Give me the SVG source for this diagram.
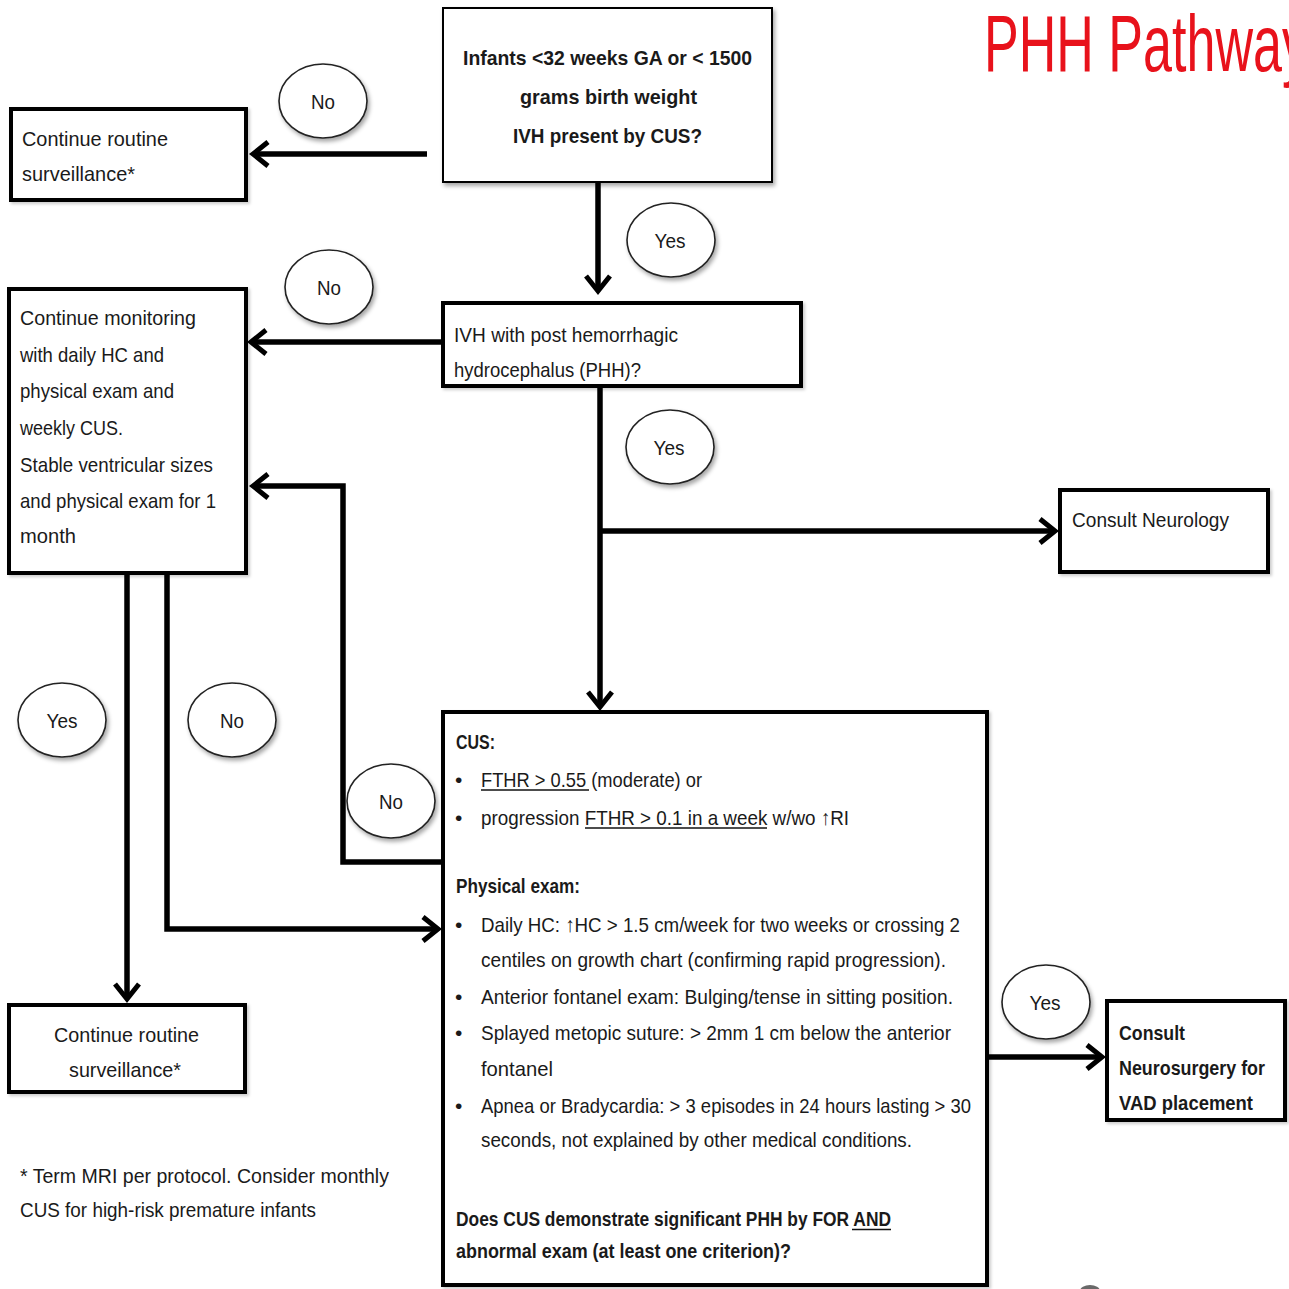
<svg xmlns="http://www.w3.org/2000/svg" width="1289" height="1289" viewBox="0 0 1289 1289">
  <defs>
    <style>
      .box { fill: #fff; stroke: #000; stroke-width: 4; }
      .thin { stroke-width: 2; }
      .oval { fill: #fff; stroke: #222; stroke-width: 1.6; }
      .conn { fill: none; stroke: #000; stroke-width: 5.5; }
      .ul { stroke: #111; stroke-width: 1.6; }
      .t { font-family: "Liberation Sans", Arial, sans-serif; font-size: 21px; fill: #1a1a1a; }
      .b { font-weight: bold; }
      .lbl { font-family: "Liberation Sans", Arial, sans-serif; font-size: 21px; fill: #1a1a1a; text-anchor: middle; }
      .title { font-family: "Liberation Sans", Arial, sans-serif; font-size: 80px; fill: #e8121b; }
    </style>
    <filter id="shadow" x="-20%" y="-20%" width="150%" height="150%">
      <feDropShadow dx="2" dy="3" stdDeviation="2" flood-color="#000" flood-opacity="0.35"/>
    </filter>
    <filter id="softshadow" x="-10%" y="-10%" width="130%" height="130%">
      <feDropShadow dx="2" dy="2" stdDeviation="1.5" flood-color="#000" flood-opacity="0.2"/>
    </filter>
    <marker id="chev" markerUnits="userSpaceOnUse" markerWidth="30" markerHeight="34" viewBox="-22 -17 30 34" refX="0" refY="0" orient="auto">
      <path d="M-15,-12 L0,0 L-15,12" fill="none" stroke="#000" stroke-width="5"/>
    </marker>
  </defs>

  <rect width="1289" height="1289" fill="#fff"/>

  <!-- title, running off the right edge -->
  <text class="title" x="984" y="71" textLength="324" lengthAdjust="spacingAndGlyphs">PHH Pathway</text>

  <!-- connectors -->
  <g id="connectors">
    <path class="conn" d="M427,154 H253" marker-end="url(#chev)"/>
    <path class="conn" d="M598,183 V291" marker-end="url(#chev)"/>
    <path class="conn" d="M441,342 H251" marker-end="url(#chev)"/>
    <path class="conn" d="M600,388 V707" marker-end="url(#chev)"/>
    <path class="conn" d="M600,531 H1055" marker-end="url(#chev)"/>
    <path class="conn" d="M441,862 H343 V486 H253" marker-end="url(#chev)"/>
    <path class="conn" d="M167,575 V929 H438" marker-end="url(#chev)"/>
    <path class="conn" d="M127,575 V999" marker-end="url(#chev)"/>
    <path class="conn" d="M989,1057 H1102" marker-end="url(#chev)"/>
  </g>

  <!-- start question -->
  <g id="n-start">
    <rect class="box thin" x="443" y="8" width="329" height="174" filter="url(#shadow)"/>
    <text class="t b" x="463" y="65" textLength="289" lengthAdjust="spacingAndGlyphs">Infants &lt;32 weeks GA or &lt; 1500</text>
    <text class="t b" x="520" y="104" textLength="177" lengthAdjust="spacingAndGlyphs">grams birth weight</text>
    <text class="t b" x="513" y="143" textLength="189" lengthAdjust="spacingAndGlyphs">IVH  present by CUS?</text>
  </g>

  <g id="n-routine-top">
    <rect class="box" x="11" y="109" width="235" height="91" filter="url(#softshadow)"/>
    <text class="t" x="22" y="146" textLength="146" lengthAdjust="spacingAndGlyphs">Continue routine</text>
    <text class="t" x="22" y="181" textLength="113" lengthAdjust="spacingAndGlyphs">surveillance*</text>
  </g>

  <g id="n-phh">
    <rect class="box" x="443" y="303" width="358" height="83" filter="url(#softshadow)"/>
    <text class="t" x="454" y="342" textLength="224" lengthAdjust="spacingAndGlyphs">IVH with post hemorrhagic</text>
    <text class="t" x="454" y="377" textLength="187" lengthAdjust="spacingAndGlyphs">hydrocephalus (PHH)?</text>
  </g>

  <g id="n-monitor">
    <rect class="box" x="9" y="289" width="237" height="284" filter="url(#softshadow)"/>
    <text class="t" x="20" y="325" textLength="176" lengthAdjust="spacingAndGlyphs">Continue monitoring</text>
    <text class="t" x="20" y="362" textLength="144" lengthAdjust="spacingAndGlyphs">with daily HC and</text>
    <text class="t" x="20" y="398" textLength="154" lengthAdjust="spacingAndGlyphs">physical exam and</text>
    <text class="t" x="20" y="435" textLength="103" lengthAdjust="spacingAndGlyphs">weekly CUS.</text>
    <text class="t" x="20" y="472" textLength="193" lengthAdjust="spacingAndGlyphs">Stable ventricular sizes</text>
    <text class="t" x="20" y="508" textLength="196" lengthAdjust="spacingAndGlyphs">and physical exam for 1</text>
    <text class="t" x="20" y="543" textLength="56" lengthAdjust="spacingAndGlyphs">month</text>
  </g>

  <g id="n-neurology">
    <rect class="box" x="1060" y="490" width="208" height="82" filter="url(#softshadow)"/>
    <text class="t" x="1072" y="527" textLength="157" lengthAdjust="spacingAndGlyphs">Consult Neurology</text>
  </g>

  <g id="n-criteria">
    <rect class="box" x="443" y="712" width="544" height="573" filter="url(#softshadow)"/>
    <text class="t b" x="456" y="749" textLength="39" lengthAdjust="spacingAndGlyphs">CUS:</text>
    <text class="t" x="455" y="787">•</text>
    <text class="t" x="481" y="787" textLength="221" lengthAdjust="spacingAndGlyphs">FTHR &gt; 0.55 (moderate) or</text>
    <line class="ul" x1="481" y1="790" x2="589" y2="790"/>
    <text class="t" x="455" y="825">•</text>
    <text class="t" x="481" y="825" textLength="368" lengthAdjust="spacingAndGlyphs">progression FTHR &gt; 0.1 in a week w/wo ↑RI</text>
    <line class="ul" x1="585" y1="828" x2="767" y2="828"/>

    <text class="t b" x="456" y="893" textLength="124" lengthAdjust="spacingAndGlyphs">Physical exam:</text>
    <text class="t" x="455" y="932">•</text>
    <text class="t" x="481" y="932" textLength="479" lengthAdjust="spacingAndGlyphs">Daily HC: ↑HC &gt; 1.5 cm/week for two weeks or crossing 2</text>
    <text class="t" x="481" y="967" textLength="465" lengthAdjust="spacingAndGlyphs">centiles on growth chart (confirming rapid progression).</text>
    <text class="t" x="455" y="1004">•</text>
    <text class="t" x="481" y="1004" textLength="472" lengthAdjust="spacingAndGlyphs">Anterior fontanel exam: Bulging/tense in sitting position.</text>
    <text class="t" x="455" y="1040">•</text>
    <text class="t" x="481" y="1040" textLength="470" lengthAdjust="spacingAndGlyphs">Splayed metopic suture: &gt; 2mm 1 cm below the anterior</text>
    <text class="t" x="481" y="1076" textLength="72" lengthAdjust="spacingAndGlyphs">fontanel</text>
    <text class="t" x="455" y="1113">•</text>
    <text class="t" x="481" y="1113" textLength="490" lengthAdjust="spacingAndGlyphs">Apnea or Bradycardia:  &gt; 3 episodes in 24 hours lasting &gt; 30</text>
    <text class="t" x="481" y="1147" textLength="431" lengthAdjust="spacingAndGlyphs">seconds, not explained by other medical conditions.</text>

    <text class="t b" x="456" y="1226" textLength="435" lengthAdjust="spacingAndGlyphs">Does CUS demonstrate significant PHH  by FOR AND</text>
    <line class="ul" x1="852" y1="1229.5" x2="891" y2="1229.5"/>
    <text class="t b" x="456" y="1258" textLength="335" lengthAdjust="spacingAndGlyphs">abnormal exam (at least one criterion)?</text>
  </g>

  <g id="n-routine-bottom">
    <rect class="box" x="9" y="1005" width="236" height="87" filter="url(#softshadow)"/>
    <text class="t" x="54" y="1042" textLength="145" lengthAdjust="spacingAndGlyphs">Continue routine</text>
    <text class="t" x="69" y="1077" textLength="112" lengthAdjust="spacingAndGlyphs">surveillance*</text>
  </g>

  <g id="n-neurosurgery">
    <rect class="box" x="1107" y="1001" width="178" height="119" filter="url(#softshadow)"/>
    <text class="t b" x="1119" y="1040" textLength="66" lengthAdjust="spacingAndGlyphs">Consult</text>
    <text class="t b" x="1119" y="1075" textLength="146" lengthAdjust="spacingAndGlyphs">Neurosurgery for</text>
    <text class="t b" x="1119" y="1110" textLength="134" lengthAdjust="spacingAndGlyphs">VAD placement</text>
  </g>

  <!-- footnote -->
  <g id="footnote">
    <text class="t" x="20" y="1183" textLength="369" lengthAdjust="spacingAndGlyphs">* Term MRI  per protocol.  Consider monthly</text>
    <text class="t" x="20" y="1217" textLength="296" lengthAdjust="spacingAndGlyphs">CUS for high-risk premature infants</text>
  </g>

  <!-- branch labels -->
  <g id="label-no-1">
    <ellipse class="oval" cx="323" cy="101" rx="44" ry="37" filter="url(#shadow)"/>
    <text class="lbl" x="323" y="109" textLength="24" lengthAdjust="spacingAndGlyphs">No</text>
  </g>
  <g id="label-yes-1">
    <ellipse class="oval" cx="671" cy="240" rx="44" ry="37" filter="url(#shadow)"/>
    <text class="lbl" x="670" y="248" textLength="31" lengthAdjust="spacingAndGlyphs">Yes</text>
  </g>
  <g id="label-no-2">
    <ellipse class="oval" cx="329" cy="287" rx="44" ry="37" filter="url(#shadow)"/>
    <text class="lbl" x="329" y="295" textLength="24" lengthAdjust="spacingAndGlyphs">No</text>
  </g>
  <g id="label-yes-2">
    <ellipse class="oval" cx="670" cy="447" rx="44" ry="37" filter="url(#shadow)"/>
    <text class="lbl" x="669" y="455" textLength="31" lengthAdjust="spacingAndGlyphs">Yes</text>
  </g>
  <g id="label-yes-3">
    <ellipse class="oval" cx="62" cy="720" rx="44" ry="37" filter="url(#shadow)"/>
    <text class="lbl" x="62" y="728" textLength="31" lengthAdjust="spacingAndGlyphs">Yes</text>
  </g>
  <g id="label-no-3">
    <ellipse class="oval" cx="232" cy="720" rx="44" ry="37" filter="url(#shadow)"/>
    <text class="lbl" x="232" y="728" textLength="24" lengthAdjust="spacingAndGlyphs">No</text>
  </g>
  <g id="label-no-4">
    <ellipse class="oval" cx="391" cy="801" rx="44" ry="37" filter="url(#shadow)"/>
    <text class="lbl" x="391" y="809" textLength="24" lengthAdjust="spacingAndGlyphs">No</text>
  </g>
  <g id="label-yes-4">
    <ellipse class="oval" cx="1046" cy="1002" rx="44" ry="37" filter="url(#shadow)"/>
    <text class="lbl" x="1045" y="1010" textLength="31" lengthAdjust="spacingAndGlyphs">Yes</text>
  </g>

  <!-- partial mark at lower edge -->
  <ellipse cx="1090" cy="1291" rx="10" ry="6" fill="#444" opacity="0.8"/>
</svg>
